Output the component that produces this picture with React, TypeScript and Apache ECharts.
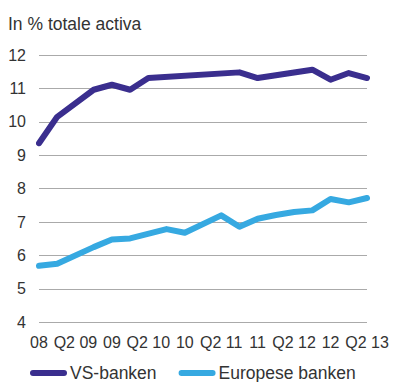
import React, { useEffect, useRef } from "react";
import * as echarts from "echarts";

const quarters = [
  "Q4 08", "Q1 09", "Q2 09", "Q3 09", "Q4 09", "Q1 10", "Q2 10", "Q3 10", "Q4 10",
  "Q1 11", "Q2 11", "Q3 11", "Q4 11", "Q1 12", "Q2 12", "Q3 12", "Q4 12", "Q1 13", "Q2 13",
];
const tickLabels = ["08", "Q2 09", "09", "Q2 10", "10", "Q2 11", "11", "Q2 12", "12", "Q2 13"];
const vsBanken = [9.36, 10.15, null, 10.96, 11.11, 10.96, 11.31, null, null, null, null, 11.48, 11.31, null, null, 11.56, 11.26, 11.46, 11.31];
const europeseBanken = [5.69, 5.75, null, 6.25, 6.48, 6.51, null, 6.79, 6.68, null, 7.2, 6.86, 7.1, 7.21, 7.3, 7.35, 7.69, 7.59, 7.72];
const seriesNames = ["VS-banken", "Europese banken"];
const titleText = "In % totale activa";

const FONT = "'Liberation Sans', Arial, sans-serif";
const TEXT_COLOR = "#333";

export default function App() {
  const ref = useRef<HTMLDivElement>(null);
  useEffect(() => {
    if (!ref.current) return;
    const chart = echarts.init(ref.current, null, { renderer: "svg" });
    const icon = "path://M3,0H34A3,3 0 0 1 34,6H3A3,3 0 0 1 3,0Z";
    chart.setOption({
      animation: false,
      textStyle: { fontFamily: FONT },
      title: {
        text: titleText,
        left: 8,
        top: 15,
        padding: 0,
        textStyle: { fontFamily: FONT, fontSize: 17.5, fontWeight: "normal", color: TEXT_COLOR },
      },
      grid: { left: 39, right: 26, top: 55, bottom: 59.7, containLabel: false },
      legend: {
        left: 30,
        top: 364,
        padding: 0,
        itemWidth: 37,
        itemHeight: 6,
        itemGap: 22,
        textStyle: { fontFamily: FONT, fontSize: 17.5, lineHeight: 16, color: TEXT_COLOR, padding: [0, 0, 0, -2] },
        data: [
          { name: seriesNames[0], icon },
          { name: seriesNames[1], icon },
        ],
      },
      xAxis: {
        type: "category",
        data: quarters,
        boundaryGap: false,
        axisLine: { show: false },
        axisTick: { show: false },
        axisLabel: {
          interval: 0,
          margin: 12,
          fontFamily: FONT,
          fontSize: 16,
          color: TEXT_COLOR,
          formatter: (_v: string, i: number) => (i % 2 === 0 ? tickLabels[i / 2] : ""),
        },
        splitLine: { show: false },
      },
      yAxis: {
        type: "value",
        min: 4,
        max: 12,
        interval: 1,
        axisLine: { show: false },
        axisTick: { show: false },
        axisLabel: { margin: 13, fontFamily: FONT, fontSize: 16, color: TEXT_COLOR },
        splitLine: { lineStyle: { color: "#aaaaaa", width: 1 } },
      },
      series: [
        {
          name: seriesNames[0],
          type: "line",
          data: vsBanken,
          connectNulls: true,
          showSymbol: false,
          symbol: "none",
          lineStyle: { color: "#3a2e8e", width: 6, cap: "round", join: "round" },
          itemStyle: { color: "#3a2e8e" },
        },
        {
          name: seriesNames[1],
          type: "line",
          data: europeseBanken,
          connectNulls: true,
          showSymbol: false,
          symbol: "none",
          lineStyle: { color: "#36a9e1", width: 6, cap: "round", join: "round" },
          itemStyle: { color: "#36a9e1" },
        },
      ],
    });
    return () => chart.dispose();
  }, []);
  return (
    <div
      ref={ref}
      style={{ position: "fixed", left: 0, top: 0, width: 393, height: 382, background: "#fff" }}
    />
  );
}
